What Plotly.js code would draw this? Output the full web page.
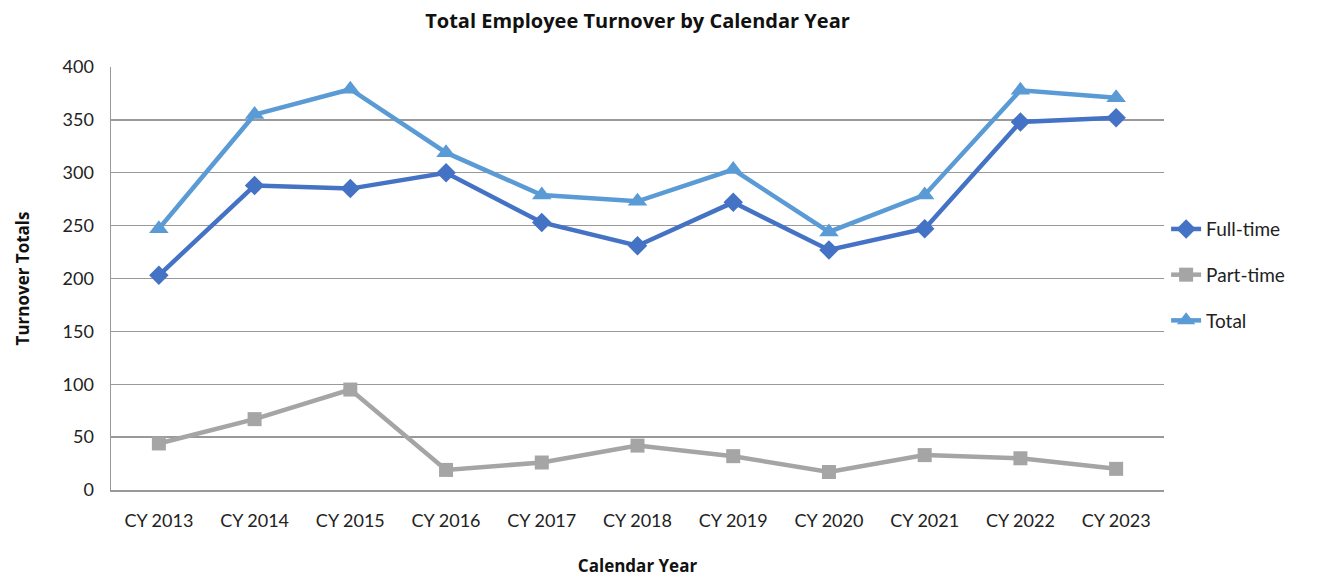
<!DOCTYPE html>
<html><head><meta charset="utf-8">
<script src="https://cdn.plot.ly/plotly-3.0.1.min.js"></script>
<style>html,body{margin:0;padding:0;background:#fff}#chart{width:1326px;height:579px}</style>
</head><body><div id="chart"></div>
<script>
const categories = ["CY 2013","CY 2014","CY 2015","CY 2016","CY 2017","CY 2018","CY 2019","CY 2020","CY 2021","CY 2022","CY 2023"];
const fullTime = [203, 288, 285, 300, 253, 231, 272, 227, 247, 348, 352];
const partTime = [44, 67, 95, 19, 26, 42, 32, 17, 33, 30, 20];
const total = [247, 355, 379, 319, 279, 273, 303, 244, 279, 378, 371];
const yTicks = [0, 50, 100, 150, 200, 250, 300, 350, 400];

const font = "Lato, 'Open Sans', sans-serif";
function tr(name, y, color, symbol, size, grp) {
  return {x: categories, y: y, name: name, type: 'scatter', mode: 'lines+markers',
    legendgroup: grp,
    line: {color: color, width: 4.5}, marker: {color: color, symbol: symbol, size: size}};
}
const data = [
  tr('Full-time', fullTime, '#4472C4', 'diamond', 15, 'a'),
  tr('Part-time', partTime, '#A5A5A5', 'square', 14, 'b'),
  tr('Total', total, '#5B9BD5', 'triangle-up', 17, 'c')
];
const layout = {
  width: 1326, height: 579,
  margin: {l: 111, r: 162, t: 67, b: 89},
  paper_bgcolor: '#fff', plot_bgcolor: '#fff',
  font: {family: font, size: 17, color: '#222'},
  title: {text: '<b>Total Employee Turnover by Calendar Year</b>', x: 0.5, xref: 'paper', y: 0.963, yanchor: 'middle',
    font: {family: "'Open Sans', sans-serif", size: 20, color: '#111'}},
  xaxis: {type: 'category', range: [-0.5, 10.5], showgrid: false, showline: true, linecolor: '#999', linewidth: 1.5,
    ticks: '', tickfont: {size: 18, color: '#222'}, ticklabelstandoff: 14,
    title: {text: '<b>Calendar Year</b>', standoff: 30, font: {family: "'Open Sans', sans-serif", size: 17, color: '#111'}}},
  yaxis: {range: [0, 400], tickvals: yTicks, showgrid: true, gridcolor: '#999', gridwidth: 1.3,
    showline: true, linecolor: '#999', linewidth: 1.5, ticks: '', zeroline: false,
    tickfont: {size: 18, color: '#222'}, ticklabelstandoff: 12,
    title: {text: '<b>Turnover Totals</b>', standoff: 28, font: {family: "'Open Sans', sans-serif", size: 17, color: '#111'}}},
  showlegend: true,
  legend: {x: 1.002, xanchor: 'left', y: 0.508, yanchor: 'middle', tracegroupgap: 18,
    font: {size: 19, color: '#222'}, itemwidth: 30}
};
Plotly.newPlot('chart', data, layout, {displayModeBar: false, staticPlot: true});
</script></body></html>
